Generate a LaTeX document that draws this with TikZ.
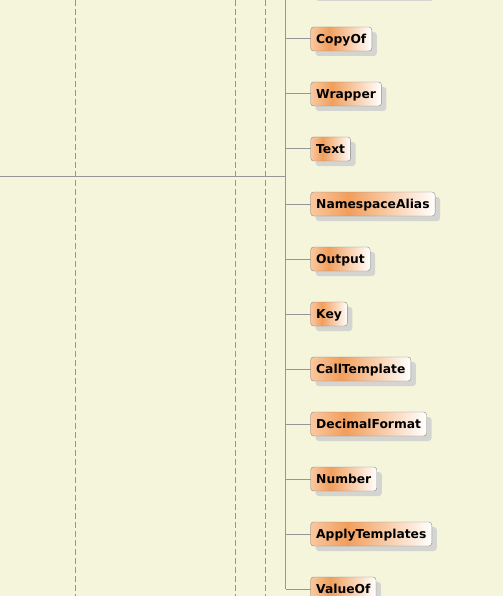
\documentclass[tikz,border=0pt]{standalone}
\usepackage{xcolor}
\usepackage{fontspec}
\setmainfont{DejaVu Sans}
\usepackage{tikz}
\usetikzlibrary{shadows}

\definecolor{paper}{RGB}{245,245,220}
\definecolor{linegray}{RGB}{150,150,150}
\definecolor{boxline}{RGB}{140,140,140}
\definecolor{shadowgray}{RGB}{212,212,208}
\definecolor{boxleft}{RGB}{249,200,160}
\definecolor{boxpeak}{RGB}{242,158,92}
\pgfdeclarehorizontalshading{boxshade}{100bp}{color(0bp)=(boxleft); color(25bp)=(boxleft); color(40bp)=(boxpeak); color(75bp)=(white); color(100bp)=(white)}

\begin{document}
\begin{tikzpicture}[
    x=1pt, y=-1pt,
    elem/.style={rectangle, rounded corners=3pt, draw=boxline, shading=boxshade, anchor=west,
        minimum height=24pt, inner xsep=5.5pt, inner ysep=0pt, text height=9pt, text depth=0pt,
        font=\bfseries\fontsize{12.3}{15}\selectfont,
        drop shadow={shadow xshift=5pt, shadow yshift=-5pt, fill=shadowgray, opacity=1}},
    link/.style={draw=linegray, line width=1pt},
    guide/.style={draw=linegray, line width=1pt, dash pattern=on 6pt off 3pt}
]

% Background and frame
\fill[paper] (0,0) rectangle (503,596);
\useasboundingbox (0,0) rectangle (503,596);
\clip (0,0) rectangle (503,596);

% Dashed guides
\draw[guide] (75.5,0) -- (75.5,596);
\draw[guide] (235.5,0) -- (235.5,596);
\draw[guide] (265.5,0) -- (265.5,596);

% Trunk
\coordinate (trunk) at (285.5,0);
\coordinate (join) at (285.5,176);
\draw[link] (0,176) -- (join);

% Elements
\node[elem, minimum width=118pt] (above) at (310.5,-16) {};
\node[elem] (copyof) at (310.5,39) {CopyOf};
\node[elem] (wrapper) at (310.5,94) {Wrapper};
\node[elem] (text) at (310.5,149) {Text};
\node[elem] (nsalias) at (310.5,204) {NamespaceAlias};
\node[elem] (output) at (310.5,259) {Output};
\node[elem] (key) at (310.5,314) {Key};
\node[elem] (calltpl) at (310.5,369) {CallTemplate};
\node[elem] (decfmt) at (310.5,424) {DecimalFormat};
\node[elem] (number) at (310.5,479) {Number};
\node[elem] (applytpl) at (310.5,534) {ApplyTemplates};
\node[elem] (valueof) at (310.5,589) {ValueOf};

% Branches
\draw[link] (trunk) -- (trunk |- valueof);
\foreach \n in {copyof,wrapper,text,nsalias,output,key,calltpl,decfmt,number,applytpl,valueof}
    \draw[link] (trunk |- \n) -- (\n.west);

\end{tikzpicture}
\end{document}
